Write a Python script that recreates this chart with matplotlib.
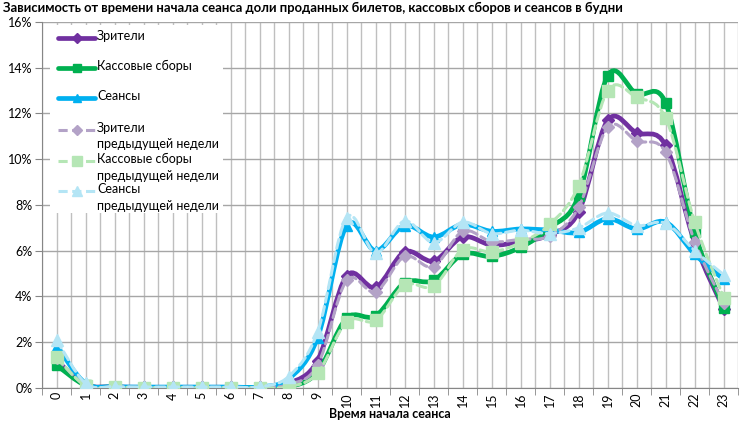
import numpy as np
import matplotlib
matplotlib.use("Agg")
import matplotlib.pyplot as plt
from matplotlib.path import Path
from matplotlib.patches import PathPatch, Rectangle
from matplotlib.lines import Line2D
from matplotlib.ticker import FixedLocator, FuncFormatter

plt.rcParams['font.family'] = ['Lato', 'DejaVu Sans']

# Data (share, %)
hours = list(range(24))
viewers = [1.2, 0.15, 0.05, 0.03, 0.03, 0.03, 0.03, 0.03, 0.2, 1.2, 4.9, 4.4, 5.95, 5.55, 6.6,
           6.25, 6.4, 6.7, 7.7, 11.7, 11.15, 10.6, 6.35, 3.45]
revenue = [1.0, 0.12, 0.04, 0.02, 0.02, 0.02, 0.02, 0.02, 0.05, 0.7, 3.05, 3.15, 4.6, 4.7, 5.85,
           5.75, 6.15, 7.0, 8.4, 13.65, 12.85, 12.45, 6.8, 3.5]
shows = [1.85, 0.2, 0.06, 0.04, 0.04, 0.04, 0.04, 0.05, 0.4, 2.2, 7.1, 6.0, 7.1, 6.6, 7.15,
         6.85, 6.95, 6.9, 6.8, 7.4, 6.95, 7.25, 5.85, 4.75]
viewers_prev = [1.3, 0.12, 0.05, 0.03, 0.03, 0.03, 0.03, 0.03, 0.15, 1.0, 4.7, 4.2, 5.75, 5.3, 6.85,
                6.4, 6.5, 6.65, 7.9, 11.4, 10.8, 10.3, 6.4, 3.7]
revenue_prev = [1.35, 0.1, 0.04, 0.02, 0.02, 0.02, 0.02, 0.02, 0.05, 0.65, 2.9, 2.95, 4.5, 4.45, 6.05,
                5.95, 6.35, 7.15, 8.85, 13.0, 12.7, 11.8, 7.25, 3.95]
shows_prev = [2.1, 0.2, 0.06, 0.04, 0.04, 0.04, 0.04, 0.05, 0.5, 2.45, 7.45, 5.9, 7.3, 6.35, 7.25,
              6.75, 6.9, 6.75, 7.0, 7.65, 7.1, 7.2, 6.0, 4.95]

labels = ['Зрители', 'Кассовые сборы', 'Сеансы',
          'Зрители\nпредыдущей недели', 'Кассовые сборы\nпредыдущей недели',
          'Сеансы\nпредыдущей недели']

W, H = 751, 422
fig = plt.figure(figsize=(W / 100, H / 100), dpi=100)
ax = fig.add_axes([0.056, 0.0806, 0.927, 0.8674])


def smooth_path(x, y):
    # Catmull-Rom style bezier through the data points (Excel "smoothed line")
    pts = np.column_stack([x, y]).astype(float)
    verts = [pts[0]]
    codes = [Path.MOVETO]
    n = len(pts)
    for i in range(n - 1):
        p0 = pts[i - 1] if i > 0 else pts[i]
        p1 = pts[i]
        p2 = pts[i + 1]
        p3 = pts[i + 2] if i + 2 < n else pts[i + 1]
        c1 = p1 + (p2 - p0) / 6.0
        c2 = p2 - (p3 - p1) / 6.0
        verts += [c1, c2, p2]
        codes += [Path.CURVE4] * 3
    return Path(verts, codes)


dash = (0, (3, 1.5))
series = [
    (viewers, '#7030A0', '-', 3.4, 'D', 6.0, 3),
    (revenue, '#00B050', '-', 3.4, 's', 6.5, 3),
    (shows, '#00B0F0', '-', 3.4, '^', 7.5, 3),
    (viewers_prev, '#B3A2C7', dash, 2.2, 'D', 6.5, 4),
    (revenue_prev, '#B5E6B5', dash, 2.2, 's', 8.5, 4),
    (shows_prev, '#B4E5F5', dash, 2.2, '^', 8.5, 4),
]

for vals, col, ls, lw, mk, ms, z in series:
    ax.add_patch(PathPatch(smooth_path(hours, vals), fill=False, edgecolor=col,
                           linewidth=lw, linestyle=ls, zorder=z, capstyle='round'))
    ax.plot(hours, vals, linestyle='none', marker=mk, markersize=ms, color=col, zorder=z)

ax.set_xlim(-0.5, 23.5)
ax.set_ylim(0, 16)
ax.xaxis.set_major_locator(FixedLocator(hours))
ax.xaxis.set_minor_locator(FixedLocator(np.arange(-0.5, 24, 1)))
ax.set_xticklabels([str(h) for h in hours], rotation=90, fontsize=9)
ax.yaxis.set_major_locator(FixedLocator(np.arange(0, 17, 2)))
ax.yaxis.set_major_formatter(FuncFormatter(lambda v, p: f'{int(v)}%'))
ax.tick_params(axis='y', labelsize=9, length=5, color='#868686', pad=2)
ax.tick_params(axis='x', which='major', length=0, pad=3)
ax.tick_params(axis='x', which='minor', length=5, color='#868686')

ax.grid(True, which='both', axis='x', color='#BFBFBF', linewidth=1.0)
ax.grid(True, which='major', axis='y', color='#A6A6A6', linewidth=1.0)
ax.set_axisbelow(True)
for s in ['top', 'right']:
    ax.spines[s].set_visible(False)
for s in ['left', 'bottom']:
    ax.spines[s].set_color('#868686')

ax.set_xlabel('Время начала сеанса', fontsize=9, fontweight='bold', labelpad=1)
fig.text(0.004, 0.982, 'Зависимость от времени начала сеанса доли проданных билетов, '
         'кассовых сборов и сеансов в будни', fontsize=9.4, fontweight='bold',
         ha='left', va='center')

# legend drawn by hand (handle sits on the first text line, as in Excel)
fx = lambda px: px / W
fy = lambda py: 1 - py / H
fig.add_artist(Rectangle((fx(50), fy(213)), fx(173), (213 - 25) / H,
                         transform=fig.transFigure, facecolor='white',
                         edgecolor='none', zorder=8))
leg_y = [38, 68, 98, 130, 161, 191]
for (vals, col, ls, lw, mk, ms, z), lab, py in zip(series, labels, leg_y):
    fig.add_artist(Line2D([fx(58), fx(95)], [fy(py), fy(py)], transform=fig.transFigure,
                          color=col, linestyle=ls, linewidth=lw, zorder=9,
                          solid_capstyle='round'))
    fig.add_artist(Line2D([fx(76.5)], [fy(py)], transform=fig.transFigure, color=col,
                          marker=mk, markersize=ms * 0.8, linestyle='none', zorder=9))
    fig.text(fx(97), fy(py), lab, fontsize=9, ha='left', va='top',
             linespacing=1.45, zorder=9,
             transform=fig.transFigure).set_y(fy(py - 8))

fig.savefig('out.png', dpi=100)
